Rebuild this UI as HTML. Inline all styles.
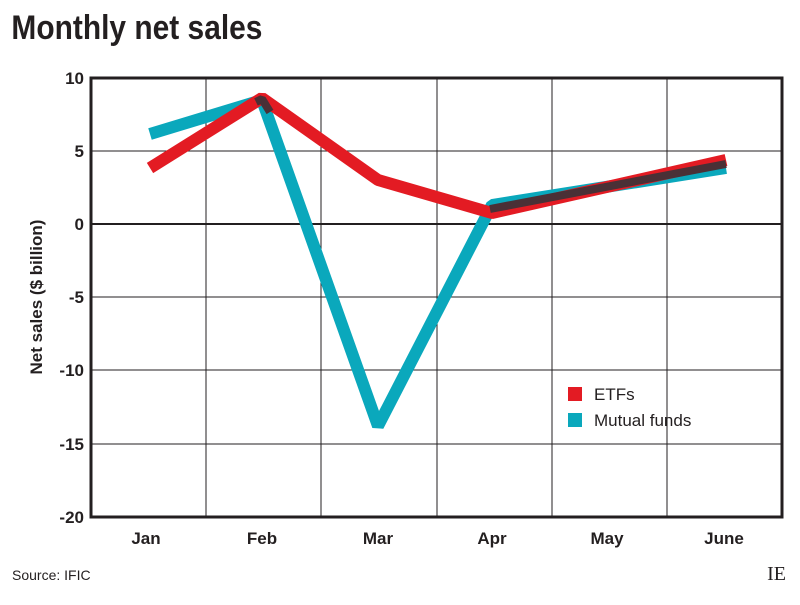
<!DOCTYPE html>
<html><head><style>
body{margin:0;background:#fff;width:800px;height:600px;overflow:hidden;font-family:"Liberation Sans",sans-serif}
</style></head><body>
<svg width="800" height="600" xmlns="http://www.w3.org/2000/svg">
<text x="13" y="39" font-family="Liberation Sans Narrow, Liberation Sans, sans-serif" font-weight="bold" font-size="34" fill="#231f20" transform="scale(0.88,1)">Monthly net sales</text>
<g stroke="#231f20" stroke-width="1">
<line x1="206" y1="78" x2="206" y2="517"/><line x1="321" y1="78" x2="321" y2="517"/>
<line x1="437" y1="78" x2="437" y2="517"/><line x1="552" y1="78" x2="552" y2="517"/>
<line x1="667" y1="78" x2="667" y2="517"/>
<line x1="91" y1="151" x2="782" y2="151"/><line x1="91" y1="297" x2="782" y2="297"/>
<line x1="91" y1="370" x2="782" y2="370"/><line x1="91" y1="444" x2="782" y2="444"/>
</g>
<line x1="91" y1="224" x2="782" y2="224" stroke="#231f20" stroke-width="2"/>
<path d="M91,78 H782 V517 H91 Z" fill="none" stroke="#231f20" stroke-width="3"/>
<g font-weight="bold" font-size="17" fill="#231f20" text-anchor="end">
<text x="84" y="84">10</text><text x="84" y="157">5</text><text x="84" y="230">0</text>
<text x="84" y="303">-5</text><text x="84" y="376">-10</text><text x="84" y="450">-15</text><text x="84" y="523">-20</text>
</g>
<g font-weight="bold" font-size="17" fill="#231f20" text-anchor="middle">
<text x="146" y="544">Jan</text><text x="262" y="544">Feb</text><text x="378" y="544">Mar</text>
<text x="492" y="544">Apr</text><text x="607" y="544">May</text><text x="724" y="544">June</text>
</g>
<text transform="translate(42,297) rotate(-90)" text-anchor="middle" font-weight="bold" font-size="17" fill="#231f20">Net sales ($ billion)</text>
<polyline points="150,134 262,100 378,426 492,205 726,168" fill="none" stroke="#0aa8bc" stroke-width="12" stroke-linejoin="bevel"/>
<polyline points="150,168 262,98 378,180 492,213 726,160" fill="none" stroke="#e31b23" stroke-width="12" stroke-linejoin="bevel"/>
<polyline points="256,102 262,99 270,112" fill="none" stroke="#4a3036" stroke-width="8" stroke-linejoin="bevel"/>
<polyline points="490,209 726,164" fill="none" stroke="#4a3036" stroke-width="8"/>
<rect x="568" y="387" width="14" height="14" fill="#e31b23"/>
<rect x="568" y="413" width="14" height="14" fill="#0aa8bc"/>
<text x="594" y="400" font-size="17" fill="#231f20">ETFs</text>
<text x="594" y="426" font-size="17" fill="#231f20">Mutual funds</text>
<text x="12" y="580" font-size="14" fill="#231f20">Source: IFIC</text>
<text x="786" y="580" text-anchor="end" font-family="Liberation Serif,serif" font-size="20" fill="#231f20">IE</text>
</svg>
</body></html>
